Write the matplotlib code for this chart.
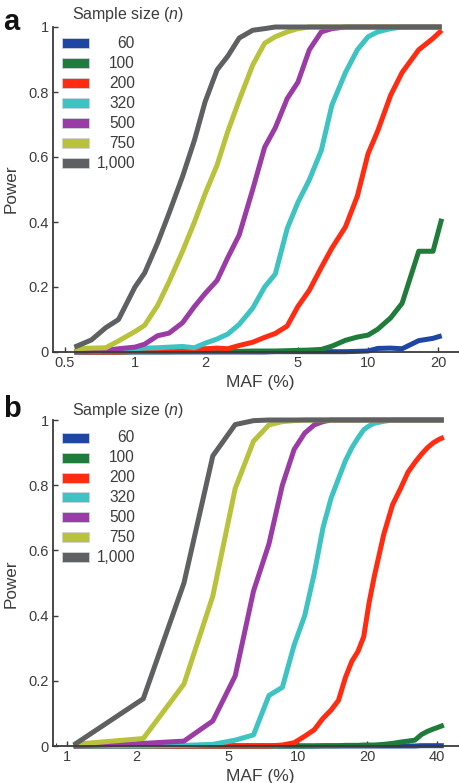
import matplotlib
matplotlib.use("Agg")
import matplotlib.pyplot as plt
from matplotlib.patches import Rectangle
from matplotlib.ticker import FixedLocator, FixedFormatter, LogLocator, NullFormatter

plt.rcParams['font.family'] = ['Liberation Sans', 'DejaVu Sans']
plt.rcParams['mathtext.fontset'] = 'custom'
plt.rcParams['mathtext.rm'] = 'Liberation Sans'
plt.rcParams['mathtext.it'] = 'Liberation Sans:italic'

# ---------------- data ----------------
sample_sizes = ['60', '100', '200', '320', '500', '750', '1,000']
colors = ['#2046a3', '#1f7c3b', '#ff2c12', '#3dc3c1', '#9b3ca6', '#b9c23b', '#5f6062']

# Panel a
maf_a = [0.55, 0.65, 0.75, 0.85, 1.0, 1.1, 1.25, 1.4, 1.6, 1.8, 2.0, 2.25, 2.5, 2.8,
         3.2, 3.6, 4.0, 4.5, 5.0, 5.6, 6.3, 7.0, 8.0, 9.0, 10, 11, 12.5, 14, 16.5, 19, 20.7]
pow_a_60 = [0, 0, 0, 0, 0, 0, 0, 0, 0, 0, 0, 0, 0, 0, 0, 0, 0.001, 0.001, 0.001, 0.001,
            0.001, 0.001, 0.001, 0.002, 0.003, 0.011, 0.012, 0.01, 0.035, 0.042, 0.05]
pow_a_100 = [0, 0, 0, 0, 0.001, 0.001, 0.001, 0.001, 0.002, 0.002, 0.002, 0.002, 0.002,
             0.002, 0.003, 0.003, 0.003, 0.004, 0.005, 0.006, 0.008, 0.018, 0.036, 0.046,
             0.052, 0.07, 0.105, 0.15, 0.31, 0.31, 0.41]
pow_a_200 = [0, 0, 0, 0, 0.002, 0.003, 0.004, 0.005, 0.005, 0.008, 0.01, 0.012, 0.01,
             0.02, 0.03, 0.045, 0.057, 0.08, 0.14, 0.19, 0.26, 0.32, 0.385, 0.48, 0.61,
             0.68, 0.79, 0.86, 0.93, 0.965, 0.99]
pow_a_320 = [0, 0.002, 0.005, 0.008, 0.01, 0.012, 0.013, 0.015, 0.017, 0.013, 0.027, 0.04,
             0.055, 0.085, 0.135, 0.2, 0.24, 0.38, 0.46, 0.53, 0.62, 0.76, 0.86, 0.93,
             0.97, 0.985, 0.995, 1, 1, 1, 1]
pow_a_500 = [0, 0.002, 0.005, 0.01, 0.015, 0.024, 0.05, 0.058, 0.09, 0.14, 0.18, 0.22,
             0.29, 0.36, 0.5, 0.63, 0.69, 0.78, 0.83, 0.93, 0.985, 0.995, 1, 1, 1, 1, 1,
             1, 1, 1, 1]
pow_a_750 = [0.01, 0.012, 0.013, 0.034, 0.063, 0.082, 0.143, 0.216, 0.31, 0.4, 0.487,
             0.575, 0.678, 0.775, 0.883, 0.95, 0.97, 0.985, 0.995, 1, 1, 1, 1, 1, 1, 1,
             1, 1, 1, 1, 1]
pow_a_1000 = [0.015, 0.037, 0.075, 0.1, 0.2, 0.243, 0.335, 0.427, 0.54, 0.652, 0.77,
              0.868, 0.91, 0.966, 0.99, 0.995, 1, 1, 1, 1, 1, 1, 1, 1, 1, 1, 1, 1, 1, 1, 1]

# Panel b
maf_b = [1.07, 2.14, 3.21, 4.28, 5.35, 6.42, 7.49, 8.56, 9.63, 10.7, 11.77, 12.84, 13.91,
         14.98, 16.05, 17.12, 18.19, 19.26, 20.33, 21.4, 23.54, 25.68, 27.82, 29.96,
         32.1, 34.24, 36.38, 38.52, 40.66, 42.8]
pow_b_60 = [0, 0, 0, 0, 0, 0, 0, 0, 0, 0, 0, 0, 0, 0, 0, 0, 0, 0, 0, 0, 0, 0, 0, 0,
            0, 0.001, 0.001, 0.001, 0.001, 0.001]
pow_b_100 = [0, 0, 0, 0, 0, 0, 0, 0, 0, 0, 0, 0.001, 0.001, 0.001, 0.002, 0.002, 0.002,
             0.003, 0.003, 0.003, 0.005, 0.008, 0.012, 0.015, 0.018, 0.035, 0.045, 0.052,
             0.058, 0.064]
pow_b_200 = [0, 0, 0, 0, 0, 0, 0, 0.003, 0.01, 0.03, 0.05, 0.085, 0.11, 0.14, 0.21, 0.26,
             0.29, 0.335, 0.44, 0.52, 0.65, 0.74, 0.79, 0.84, 0.87, 0.895, 0.915, 0.93,
             0.94, 0.947]
pow_b_320 = [0, 0, 0.002, 0.005, 0.018, 0.034, 0.155, 0.18, 0.31, 0.4, 0.53, 0.67, 0.76,
             0.82, 0.875, 0.915, 0.945, 0.97, 0.982, 0.99, 0.996, 1, 1, 1, 1, 1, 1, 1,
             1, 1]
pow_b_500 = [0, 0.008, 0.015, 0.077, 0.215, 0.475, 0.62, 0.8, 0.91, 0.96, 0.985, 0.995,
             1, 1, 1, 1, 1, 1, 1, 1, 1, 1, 1, 1, 1, 1, 1, 1, 1, 1]
pow_b_750 = [0.005, 0.023, 0.19, 0.46, 0.79, 0.935, 0.985, 0.995, 0.998, 1, 1, 1, 1, 1,
             1, 1, 1, 1, 1, 1, 1, 1, 1, 1, 1, 1, 1, 1, 1, 1]
pow_b_1000 = [0.003, 0.145, 0.5, 0.89, 0.986, 0.998, 1, 1, 1, 1, 1, 1, 1, 1, 1, 1, 1, 1,
              1, 1, 1, 1, 1, 1, 1, 1, 1, 1, 1, 1]

y_ticks = [0, 0.2, 0.4, 0.6, 0.8, 1]
y_ticklabels = ['0', '0.2', '0.4', '0.6', '0.8', '1']
xticks_a = [0.5, 1, 2, 5, 10, 20]
xticklabels_a = ['0.5', '1', '2', '5', '10', '20']
xticks_b = [1, 2, 5, 10, 20, 40]
xticklabels_b = ['1', '2', '5', '10', '20', '40']

# ---------------- figure ----------------
W, H = 460, 783
fig = plt.figure(figsize=(W / 100, H / 100), dpi=100)

def fx(px):
    return px / W

def fy(py):
    return 1 - py / H

axis_col = '#3a3a3a'
text_col = '#3c3c3c'


def make_panel(rect, maf, series, xlim, xticks, xticklabels):
    ax = fig.add_axes(rect)
    for vals, c in zip(series, colors):
        ax.plot(maf, vals, color=c, lw=3.6, solid_joinstyle='round',
                solid_capstyle='butt', clip_on=False)
    ax.set_xscale('log')
    ax.set_xlim(*xlim)
    ax.set_ylim(0, 1)
    ax.xaxis.set_major_locator(FixedLocator(xticks))
    ax.xaxis.set_major_formatter(FixedFormatter(xticklabels))
    ax.xaxis.set_minor_locator(LogLocator(base=10, subs=range(2, 10)))
    ax.xaxis.set_minor_formatter(NullFormatter())
    ax.yaxis.set_major_locator(FixedLocator(y_ticks))
    ax.yaxis.set_major_formatter(FixedFormatter(y_ticklabels))
    for s in ['top', 'right']:
        ax.spines[s].set_visible(False)
    for s in ['left', 'bottom']:
        ax.spines[s].set_color(axis_col)
        ax.spines[s].set_linewidth(1.3)
    ax.tick_params(axis='both', which='major', direction='in', length=3.5, width=1.0,
                   color=axis_col, labelsize=10.5, labelcolor=text_col, pad=3)
    ax.tick_params(axis='x', which='minor', direction='in', length=2, width=0.8,
                   color=axis_col)
    ax.tick_params(axis='y', which='minor', left=False)
    ax.patch.set_alpha(0)
    return ax


# panel a
ax_a = make_panel([fx(53), fy(352), fx(460) - fx(53), fy(27) - fy(352)], maf_a,
                  [pow_a_60, pow_a_100, pow_a_200, pow_a_320, pow_a_500, pow_a_750, pow_a_1000],
                  (0.445, 24.8), xticks_a, xticklabels_a)
# panel b
ax_b = make_panel([fx(53), fy(746), fx(460) - fx(53), fy(420) - fy(746)], maf_b,
                  [pow_b_60, pow_b_100, pow_b_200, pow_b_320, pow_b_500, pow_b_750, pow_b_1000],
                  (0.87, 50.3), xticks_b, xticklabels_b)

# labels
for ax_letter, ly, title_y, power_y, maf_y, rows in [
        ('a', 22, 14, 189, 382, [43, 63, 83, 103, 123, 143, 163]),
        ('b', 409, 411, 584, 777, [438, 458, 478, 497, 517, 537, 557])]:
    fig.text(fx(3), fy(ly), ax_letter, fontsize=21, fontweight='bold', color='#111111',
             ha='left', va='center')
    fig.text(fx(72), fy(title_y), 'Sample size ($\\it{n}$)', fontsize=11.5, color=text_col,
             ha='left', va='center')
    fig.text(fx(11), fy(power_y), 'Power', fontsize=12.3, color=text_col, rotation=90,
             ha='center', va='center')
    fig.text(fx(260), fy(maf_y), 'MAF (%)', fontsize=12.5, color=text_col,
             ha='center', va='center')
    for lab, c, ry in zip(sample_sizes, colors, rows):
        fig.add_artist(Rectangle((fx(62), fy(ry + 5)), fx(89) - fx(62), fy(ry - 5) - fy(ry + 5),
                                 transform=fig.transFigure, facecolor=c,
                                 edgecolor='#cfd4dc', linewidth=0.6))
        fig.text(fx(135), fy(ry), lab, fontsize=11.2, color=text_col, ha='right', va='center')

fig.savefig('out.png', dpi=100)
